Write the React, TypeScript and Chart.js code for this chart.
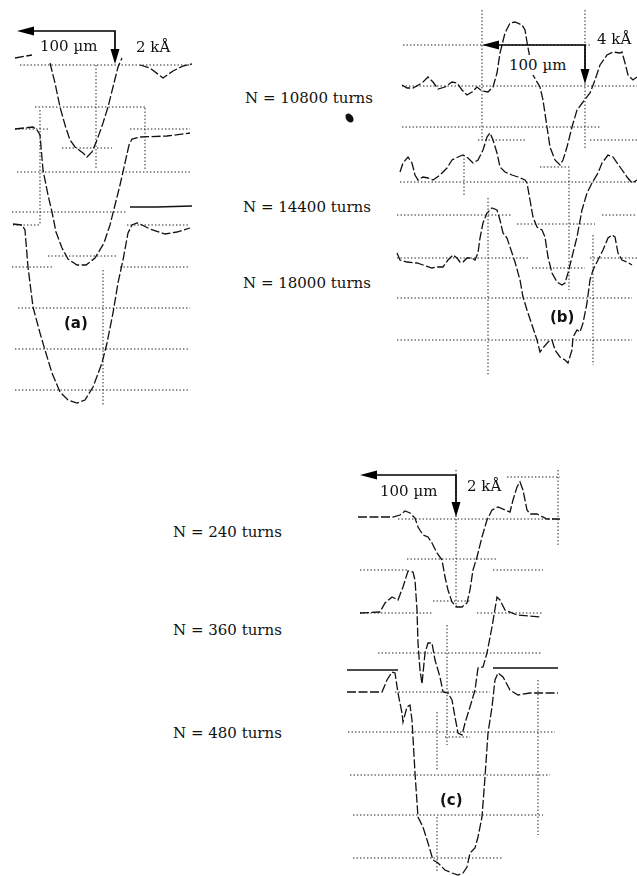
import React, { useEffect, useRef } from "react";
import { Chart, registerables } from "chart.js";
Chart.register(...registerables);

// ---------------- Panel (a): 2 kÅ / division, x in µm ----------------
const A_BASE = [-3.25, -6.45, -11.25]; // trace baselines (kÅ)
const A1_X = [15, 32, 40, 50, 55, 60, 65, 70, 75, 83, 87, 92, 97, 103, 108, 113, 118, 122, 131, 140, 150, 163, 173, 183, 192];
const A1_H = [0.35, 0.5, null, 0.1, -0.9, -2.1, -3.0, -3.75, -4.1, -4.4, -4.6, -4.35, -3.75, -2.9, -2.1, -1.1, -0.1, 0.35, null, 0, -0.15, -0.65, -0.3, -0.05, 0.05];
const A2_X = [15, 33, 37, 40, 43, 48, 52, 56, 62, 68, 77, 86, 95, 104, 110, 115, 120, 125, 129, 132, 140, 167, 190];
const A2_H = [0, 0.1, -0.05, -0.3, -2.05, -3.3, -4.15, -5.15, -5.95, -6.5, -6.8, -6.8, -6.45, -5.7, -4.8, -3.8, -2.8, -1.7, -0.8, -0.5, -0.4, -0.35, -0.2];
const A3_X = [13, 22, 25, 28, 33, 40, 45, 52, 60, 68, 77, 85, 93, 102, 107, 113, 118, 123, 128, 132, 137, 142, 150, 165, 177, 190];
const A3_H = [0.05, 0, -0.25, -2.1, -4.1, -5.4, -6.25, -7.4, -8.35, -8.75, -8.9, -8.75, -8.1, -6.9, -5.9, -4.4, -2.9, -1.75, -0.4, 0, 0.1, 0, -0.2, -0.45, -0.35, -0.15];
const A_REF_X = [130, 157, 192];
const A_REF_H = [0.9, 0.9, 0.95];
const A_GRID_H = [[-3.25, 20, 190], [-5.35, 35, 145], [-6.45, 15, 50], [-6.45, 130, 190], [-7.4, 62, 112], [-8.6, 17, 190], [-10.6, 12, 127], [-11.25, 13, 40], [-11.25, 127, 190], [-12.8, 48, 117], [-13.35, 12, 52], [-13.35, 120, 190], [-15.4, 18, 190], [-17.45, 15, 190], [-19.5, 15, 190]];
const A_GRID_V = [[96, -3.25, -8.5], [40, -5.5, -11.25], [145, -5.4, -8.5], [103, -13.5, -20.25]];
const A_ARROW = [115, -1.55, 17, -3.2]; // corner x, corner y, left end x, bottom end y

// ---------------- Panel (b): 4 kÅ / division ----------------
const B_BASE = [-8.6, -18.2, -25.8];
const B1_X = [402, 407, 413, 422, 428, 433, 438, 445, 452, 457, 462, 467, 472, 477, 482, 488, 493, 497, 500, 505, 510, 515, 522, 525, 527, 533, 540, 543, 547, 550, 555, 560, 563, 567, 572, 577, 583, 590, 595, 600, 607, 613, 620, 622, 625, 628, 633, 637];
const B1_H = [0.1, -0.2, -0.2, 0.3, 0.9, 0.4, -0.3, -0.1, 0.4, 0.3, -0.4, -0.9, -0.6, -0.1, -0.5, -0.6, -0.1, 1.3, 3.3, 5.3, 6.3, 6.4, 6.1, 5.6, 4.4, 1.1, -0.1, -1.4, -4.1, -6.1, -7.4, -7.9, -7.4, -6.1, -4.1, -2.4, -1.6, -0.7, 0.6, 2.1, 3.1, 3.4, 3.3, 3.4, 2.3, 1.1, 0.6, 0.9];
const B2_X = [400, 403, 408, 412, 415, 418, 423, 428, 433, 440, 447, 452, 458, 463, 468, 473, 478, 483, 487, 490, 493, 497, 500, 505, 512, 518, 525, 527, 530, 533, 537, 542, 545, 548, 552, 557, 562, 565, 568, 572, 577, 582, 587, 592, 598, 602, 608, 613, 620, 627, 632, 637];
const B2_H = [1.0, 1.9, 2.5, 1.9, 0.7, 0.2, 0.5, 0.4, 0.2, 0.7, 1.4, 2.2, 2.5, 2.7, 2.4, 1.9, 2.2, 3.2, 4.5, 4.9, 4.2, 2.9, 1.5, 1.0, 0.7, 0.5, 0.2, -0.1, -1.8, -3.5, -4.5, -4.8, -5.5, -7.5, -9.1, -10.0, -10.3, -10.1, -9.1, -7.5, -5.5, -2.8, -1.1, -0.1, 0.9, 1.9, 2.7, 2.5, 1.5, 0.5, -0.1, 0.2];
const B3_X = [397, 400, 407, 417, 423, 432, 437, 443, 448, 453, 457, 460, 463, 467, 472, 475, 478, 480, 483, 487, 492, 497, 500, 503, 507, 510, 515, 520, 523, 527, 532, 537, 540, 543, 548, 552, 555, 560, 565, 568, 572, 573, 577, 580, 583, 587, 590, 593, 598, 603, 608, 612, 615, 618, 622, 627, 632];
const B3_H = [0.5, -0.2, -0.4, -0.5, -0.7, -1.0, -0.9, -0.9, -0.2, 0.3, 0, -0.4, -0.4, 0, 0, -0.2, 0.5, 2.0, 3.5, 4.5, 5.0, 4.8, 3.8, 2.5, 2.0, 1.1, -0.4, -2.2, -3.9, -5.2, -6.7, -8.2, -9.4, -9.0, -8.4, -8.2, -9.2, -9.9, -10.2, -10.5, -9.2, -7.9, -7.2, -7.4, -6.5, -4.5, -2.2, -1.2, -0.2, 0.8, 2.0, 2.3, 2.1, 0.5, -0.2, -0.4, -0.7];
const B_GRID_H = [[-4.5, 403, 592], [-8.6, 402, 637], [-12.7, 402, 600], [-14.0, 478, 525], [-14.0, 590, 637], [-16.7, 540, 570], [-18.2, 400, 637], [-21.5, 397, 512], [-21.5, 602, 637], [-22.4, 517, 595], [-25.8, 397, 528], [-25.8, 590, 637], [-26.8, 532, 585], [-29.8, 397, 632], [-34.0, 397, 632]];
const B_GRID_V = [[482, -1.0, -14.0], [585, -1.0, -15.0], [464, -15.5, -19.5], [569, -17.0, -29.0], [488, -19.8, -37.5], [593, -23.5, -36.5]];
const B_ARROW = [585, -4.5, 482, -8.4];

// ---------------- Panel (c): 2 kÅ / division ----------------
const C_BASE = [-2.85, -7.6, -11.6];
const C1_X = [358, 373, 393, 400, 405, 410, 415, 418, 423, 428, 432, 437, 442, 445, 448, 452, 457, 462, 467, 470, 473, 477, 482, 487, 492, 498, 505, 510, 513, 517, 520, 523, 527, 530, 537, 547, 560];
const C1_H = [0, 0, 0, 0.1, 0.3, 0.2, -0.05, -0.5, -0.9, -1.0, -1.3, -1.8, -2.15, -3.0, -3.65, -4.25, -4.5, -4.5, -4.3, -3.65, -2.65, -2.0, -1.0, -0.15, 0.35, 0.5, 0.35, 0.25, 0.85, 1.5, 1.75, 1.35, 0.35, 0.15, 0.15, -0.1, -0.1];
const C2_X = [360, 380, 385, 392, 398, 403, 408, 413, 415, 417, 418, 420, 422, 425, 428, 432, 435, 440, 443, 448, 452, 455, 458, 462, 465, 470, 475, 478, 483, 487, 492, 497, 500, 505, 517, 540];
const C2_H = [-0.05, 0, 0.45, 0.75, 0.6, 1.25, 2.05, 2.0, 1.6, 0.1, -1.55, -2.9, -3.6, -2.05, -1.55, -1.55, -2.4, -3.25, -4.0, -4.05, -4.4, -5.25, -6.05, -6.15, -5.55, -4.75, -3.9, -2.8, -2.75, -2.05, -0.75, 0.75, 0.6, 0.1, -0.15, -0.25];
const C3_X = [347, 363, 382, 387, 392, 395, 398, 402, 403, 407, 410, 412, 415, 418, 423, 428, 433, 438, 445, 452, 458, 463, 467, 470, 475, 478, 482, 485, 488, 492, 495, 498, 503, 510, 518, 530, 558];
const C3_H = [0, 0, 0, 0.6, 1.0, 0.95, -0.05, -1.05, -1.5, -0.75, -0.65, -1.4, -4.05, -6.25, -6.75, -7.55, -8.4, -8.55, -8.9, -9.05, -9.15, -9.05, -8.75, -8.05, -7.8, -7.25, -6.25, -4.25, -2.05, -0.75, 0.6, 0.95, 0.75, 0.1, -0.15, -0.05, -0.05];
const C_REF_X = [347, 398, 445, 493, 558];
const C_REF_H = [1.1, 1.1, null, 1.2, 1.2];
const C_GRID_H = [[-0.85, 507, 560], [-2.95, 398, 557], [-4.95, 407, 497], [-5.5, 360, 407], [-5.5, 493, 543], [-7.05, 433, 470], [-7.65, 360, 432], [-7.65, 477, 543], [-9.65, 378, 542], [-11.6, 395, 490], [-13.6, 348, 555], [-13.85, 445, 470], [-15.75, 350, 550], [-17.75, 353, 543], [-19.9, 353, 502]];
const C_GRID_V = [[456, -0.5, -7.5], [558, -0.5, -4.25], [447, -8.25, -14.25], [437, -12.6, -15.5], [437, -17.85, -20.65], [538, -11, -18.75]];
const C_ARROW = [456, -0.75, 360, -2.85];

const LABELS_AB = ["N = 10800 turns", "N = 14400 turns", "N = 18000 turns"];
const LABELS_C = ["N = 240 turns", "N = 360 turns", "N = 480 turns"];

type Pt = { x: number; y: number | null };

function traceData(xs: number[], hs: (number | null)[], base: number): Pt[] {
  return xs.map((x, i) => ({ x, y: hs[i] === null ? null : base + (hs[i] as number) }));
}
function gridHData(lines: number[][]): Pt[] {
  const pts: Pt[] = [];
  for (const [y, x0, x1] of lines) pts.push({ x: x0, y }, { x: x1, y }, { x: x1, y: null });
  return pts;
}
function gridVData(lines: number[][]): Pt[] {
  const pts: Pt[] = [];
  for (const [x, y0, y1] of lines) pts.push({ x, y: y0 }, { x, y: y1 }, { x, y: null });
  return pts;
}

function arrowPlugin(arrow: number[]) {
  return {
    id: "scaleArrow",
    afterDatasetsDraw(chart: any) {
      const { ctx } = chart;
      const sx = chart.scales.x, sy = chart.scales.y;
      const px = sx.getPixelForValue(arrow[0]);
      const py = sy.getPixelForValue(arrow[1]);
      const lx = sx.getPixelForValue(arrow[2]);
      const by = sy.getPixelForValue(arrow[3]);
      ctx.save();
      ctx.strokeStyle = "#000";
      ctx.fillStyle = "#000";
      ctx.lineWidth = 1.7;
      ctx.setLineDash([]);
      ctx.beginPath();
      ctx.moveTo(lx + 12, py);
      ctx.lineTo(px, py);
      ctx.lineTo(px, by - 10);
      ctx.stroke();
      ctx.beginPath();
      ctx.moveTo(lx, py);
      ctx.lineTo(lx + 17, py - 4.5);
      ctx.lineTo(lx + 17, py + 4.5);
      ctx.closePath();
      ctx.fill();
      ctx.beginPath();
      ctx.moveTo(px, by);
      ctx.lineTo(px - 4.5, by - 15);
      ctx.lineTo(px + 4.5, by - 15);
      ctx.closePath();
      ctx.fill();
      ctx.restore();
    },
  };
}

type PanelProps = {
  left: number; top: number; width: number; height: number;
  xMin: number; xMax: number; yMin: number; yMax: number;
  traces: Pt[][]; refLine: Pt[] | null;
  gridH: number[][]; gridV: number[][]; arrow: number[];
};

function Panel(p: PanelProps) {
  const ref = useRef<HTMLCanvasElement>(null);
  useEffect(() => {
    const traceSets = p.traces.map((d) => ({
      data: d, showLine: true, borderColor: "#111", borderWidth: 1.3,
      borderDash: [9, 2.5], pointRadius: 0, pointHoverRadius: 0, tension: 0, spanGaps: false, order: 0,
    }));
    const datasets: any[] = [...traceSets];
    if (p.refLine) {
      datasets.push({ data: p.refLine, showLine: true, borderColor: "#111", borderWidth: 1.6, pointRadius: 0, spanGaps: false, order: 1 });
    }
    datasets.push({ data: gridHData(p.gridH), showLine: true, borderColor: "#1e1e1e", borderWidth: 1, borderDash: [1.4, 2.1], pointRadius: 0, spanGaps: false, order: 2 });
    datasets.push({ data: gridVData(p.gridV), showLine: true, borderColor: "#1e1e1e", borderWidth: 1, borderDash: [1.4, 2.1], pointRadius: 0, spanGaps: false, order: 3 });
    const chart = new Chart(ref.current as HTMLCanvasElement, {
      type: "scatter",
      data: { datasets },
      options: {
        animation: false,
        responsive: false,
        maintainAspectRatio: false,
        events: [],
        layout: { padding: 0 },
        plugins: { legend: { display: false }, tooltip: { enabled: false } },
        scales: {
          x: { type: "linear", min: p.xMin, max: p.xMax, display: false },
          y: { type: "linear", min: p.yMin, max: p.yMax, display: false },
        },
      },
      plugins: [arrowPlugin(p.arrow)],
    } as any);
    return () => chart.destroy();
  }, []);
  return (
    <canvas ref={ref} width={p.width} height={p.height}
      style={{ position: "absolute", left: p.left, top: p.top, width: p.width, height: p.height }} />
  );
}

const serif: React.CSSProperties = { position: "absolute", fontFamily: "'DejaVu Serif', serif", fontSize: 15, lineHeight: "20px", whiteSpace: "nowrap", color: "#111" };
const boldSans: React.CSSProperties = { position: "absolute", fontFamily: "'DejaVu Sans', sans-serif", fontWeight: 700, fontSize: 15, lineHeight: "20px", whiteSpace: "nowrap", color: "#111" };

export default function App() {
  return (
    <div style={{ position: "absolute", left: 0, top: 0, width: 637, height: 876, background: "#fff", overflow: "hidden" }}>
      <Panel left={0} top={0} width={200} height={420} xMin={0} xMax={200} yMin={-21} yMax={0}
        traces={[traceData(A1_X, A1_H, A_BASE[0]), traceData(A2_X, A2_H, A_BASE[1]), traceData(A3_X, A3_H, A_BASE[2])]}
        refLine={traceData(A_REF_X, A_REF_H, A_BASE[2])} gridH={A_GRID_H} gridV={A_GRID_V} arrow={A_ARROW} />
      <Panel left={390} top={0} width={247} height={380} xMin={390} xMax={637} yMin={-38} yMax={0}
        traces={[traceData(B1_X, B1_H, B_BASE[0]), traceData(B2_X, B2_H, B_BASE[1]), traceData(B3_X, B3_H, B_BASE[2])]}
        refLine={null} gridH={B_GRID_H} gridV={B_GRID_V} arrow={B_ARROW} />
      <Panel left={330} top={460} width={240} height={416} xMin={330} xMax={570} yMin={-20.8} yMax={0}
        traces={[traceData(C1_X, C1_H, C_BASE[0]), traceData(C2_X, C2_H, C_BASE[1]), traceData(C3_X, C3_H, C_BASE[2])]}
        refLine={traceData(C_REF_X, C_REF_H, C_BASE[2])} gridH={C_GRID_H} gridV={C_GRID_V} arrow={C_ARROW} />

      {/* panel (a) annotations */}
      <div style={{ ...serif, left: 40, top: 36 }}>100 µm</div>
      <div style={{ ...serif, left: 136, top: 37 }}>2 kÅ</div>
      <div style={{ ...boldSans, left: 64, top: 313 }}>(a)</div>

      {/* panel (b) annotations */}
      <div style={{ ...serif, left: 508, top: 55, background: "#fff", padding: "0 1px" }}>100 µm</div>
      <div style={{ ...serif, left: 597, top: 29 }}>4 kÅ</div>
      <div style={{ ...boldSans, left: 550, top: 307 }}>(b)</div>

      {/* panel (c) annotations */}
      <div style={{ ...serif, left: 380, top: 481 }}>100 µm</div>
      <div style={{ ...serif, left: 467, top: 476 }}>2 kÅ</div>
      <div style={{ ...boldSans, left: 440, top: 790 }}>(c)</div>

      {/* turn labels */}
      <div style={{ ...serif, left: 245, top: 88 }}>{LABELS_AB[0]}</div>
      <div style={{ ...serif, left: 243, top: 197 }}>{LABELS_AB[1]}</div>
      <div style={{ ...serif, left: 243, top: 273 }}>{LABELS_AB[2]}</div>
      <div style={{ ...serif, left: 173, top: 522 }}>{LABELS_C[0]}</div>
      <div style={{ ...serif, left: 173, top: 620 }}>{LABELS_C[1]}</div>
      <div style={{ ...serif, left: 173, top: 723 }}>{LABELS_C[2]}</div>

      {/* ink blot between panels */}
      <div style={{ position: "absolute", left: 346, top: 113, width: 7, height: 10, borderRadius: "50%", background: "#111", transform: "rotate(-35deg)" }} />
    </div>
  );
}
